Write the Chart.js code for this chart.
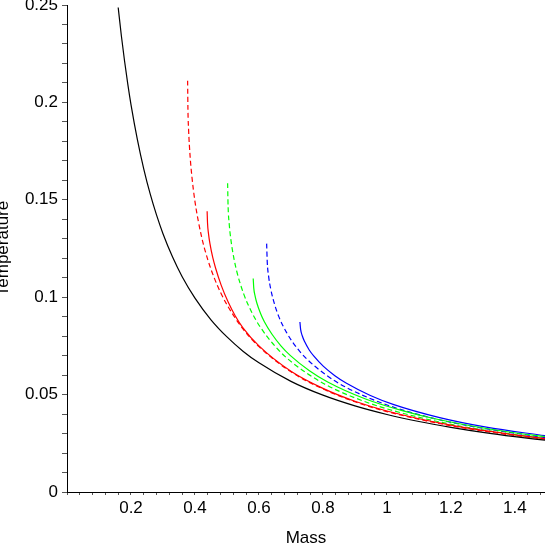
<!DOCTYPE html>
<html>
<head>
<meta charset="utf-8">
<script src="https://cdn.jsdelivr.net/npm/chart.js@4/dist/chart.umd.min.js"></script>
<style>
  html, body { margin: 0; padding: 0; background: #fff; }
  #wrap { width: 545px; height: 545px; }
</style>
</head>
<body>
<div id="wrap"><canvas id="chart" width="545" height="545"></canvas></div>
<script>
// values (Mass, Temperature)
const blackMass = [0.16, 0.17, 0.18, 0.19, 0.2, 0.22, 0.24, 0.26, 0.28, 0.3, 0.33, 0.36, 0.4, 0.45, 0.5, 0.55, 0.6, 0.7, 0.8, 0.9, 1.0, 1.1, 1.2, 1.3, 1.4, 1.494];
const blackTemp = [0.2487, 0.2341, 0.2211, 0.2094, 0.1989, 0.1809, 0.1658, 0.1530, 0.1421, 0.1326, 0.1206, 0.1105, 0.0995, 0.0884, 0.0796, 0.0723, 0.0663, 0.0568, 0.0497, 0.0442, 0.0398, 0.0362, 0.0332, 0.0306, 0.0284, 0.0266];

const redSolidMass = [0.438, 0.4393, 0.4424, 0.4468, 0.4555, 0.4643, 0.4818, 0.5037, 0.5256, 0.55, 0.6, 0.7, 0.8, 0.9, 1.0, 1.2, 1.4, 1.494];
const redSolidTemp = [0.1441, 0.1378, 0.1324, 0.1275, 0.1204, 0.1150, 0.1062, 0.0975, 0.0905, 0.0843, 0.0750, 0.0620, 0.0532, 0.0466, 0.0416, 0.0343, 0.0293, 0.0274];

const redDashMass = [0.377, 0.378, 0.38, 0.385, 0.39, 0.40, 0.42, 0.44, 0.46, 0.48, 0.5, 0.55, 0.6, 0.7, 0.8, 0.9, 1.0, 1.2, 1.4, 1.494];
const redDashTemp = [0.2111, 0.1963, 0.1861, 0.1718, 0.1625, 0.1491, 0.1315, 0.1193, 0.1100, 0.1024, 0.0961, 0.0837, 0.0746, 0.0617, 0.0529, 0.0463, 0.0413, 0.0340, 0.0290, 0.0271];

const greenSolidMass = [0.582, 0.5837, 0.5878, 0.5936, 0.6053, 0.6169, 0.6402, 0.6693, 0.6984, 0.7566, 0.8148, 0.9312, 1.0476, 1.164, 1.3968, 1.494];
const greenSolidTemp = [0.1096, 0.1048, 0.1007, 0.0969, 0.0915, 0.0874, 0.0811, 0.0749, 0.0700, 0.0624, 0.0565, 0.0479, 0.0418, 0.0371, 0.0304, 0.0285];

const greenDashMass = [0.502, 0.5035, 0.507, 0.512, 0.5221, 0.5321, 0.5522, 0.5773, 0.6024, 0.6526, 0.7028, 0.8032, 0.9036, 1.004, 1.2048, 1.4056, 1.494];
const greenDashTemp = [0.1585, 0.1467, 0.1376, 0.1298, 0.1196, 0.1123, 0.1017, 0.0923, 0.0851, 0.0744, 0.0666, 0.0556, 0.0481, 0.0425, 0.0346, 0.0293, 0.0274];

const blueSolidMass = [0.728, 0.7302, 0.7353, 0.7426, 0.7571, 0.7717, 0.8008, 0.8372, 0.8736, 0.9464, 1.0192, 1.1648, 1.3104, 1.494];
const blueSolidTemp = [0.0873, 0.0835, 0.0802, 0.0772, 0.0729, 0.0697, 0.0646, 0.0597, 0.0558, 0.0497, 0.0450, 0.0382, 0.0333, 0.0289];

const blueDashMass = [0.624, 0.6259, 0.6302, 0.6365, 0.649, 0.6614, 0.6864, 0.7176, 0.7488, 0.8112, 0.8736, 0.9984, 1.1232, 1.248, 1.494];
const blueDashTemp = [0.1275, 0.1180, 0.1107, 0.1044, 0.0962, 0.0903, 0.0818, 0.0742, 0.0684, 0.0599, 0.0536, 0.0448, 0.0387, 0.0342, 0.0279];

const xLabelStep = 0.2;
const yLabelStep = 0.05;

const pts = (xs, ys) => xs.map((x, i) => ({ x: x, y: ys[i] }));

const line = (label, xs, ys, color, dashed) => ({
  label: label,
  data: pts(xs, ys),
  borderColor: color,
  borderWidth: 1.2,
  borderDash: dashed ? [5, 3] : [],
  pointRadius: 0,
  fill: false,
  cubicInterpolationMode: 'monotone',
});

const font = { family: "'Liberation Sans', Arial, sans-serif", size: 17 };

new Chart(document.getElementById('chart'), {
  type: 'line',
  data: {
    datasets: [
      line('black', blackMass, blackTemp, '#000000', false),
      line('red', redSolidMass, redSolidTemp, '#ff0000', false),
      line('red dashed', redDashMass, redDashTemp, '#ff0000', true),
      line('green', greenSolidMass, greenSolidTemp, '#00ff00', false),
      line('green dashed', greenDashMass, greenDashTemp, '#00ff00', true),
      line('blue', blueSolidMass, blueSolidTemp, '#0000ff', false),
      line('blue dashed', blueDashMass, blueDashTemp, '#0000ff', true),
    ],
  },
  options: {
    responsive: false,
    animation: false,
    layout: { padding: { top: 5, left: 0, right: 0, bottom: 0 } },
    plugins: { legend: { display: false }, tooltip: { enabled: false } },
    scales: {
      x: {
        type: 'linear',
        min: 0,
        max: 1.494,
        border: { display: true, color: '#000', width: 1 },
        grid: { drawOnChartArea: false, drawTicks: true, tickLength: 3, tickColor: '#555' },
        ticks: {
          stepSize: 0.04,
          autoSkip: false,
          maxTicksLimit: 100,
          includeBounds: false,
          maxRotation: 0,
          padding: 3,
          color: '#000',
          font: font,
          callback: (v) => {
            const r = Math.round(v / xLabelStep);
            return (r > 0 && Math.abs(v - r * xLabelStep) < 1e-6) ? String(Math.round(v * 10) / 10) : '';
          },
        },
        title: { display: true, text: 'Mass', color: '#000', font: { ...font, lineHeight: 0.8 }, padding: { top: 0, bottom: 0 } },
        afterFit: (s) => { s.height = 53; s.paddingLeft = 0; s.paddingRight = 0; },
      },
      y: {
        type: 'linear',
        min: 0,
        max: 0.25,
        border: { display: true, color: '#000', width: 1 },
        grid: { drawOnChartArea: false, drawTicks: true, tickLength: 5, tickColor: '#555' },
        ticks: {
          stepSize: 0.01,
          autoSkip: false,
          maxTicksLimit: 100,
          padding: 4,
          color: '#000',
          font: font,
          callback: (v) => {
            const r = Math.round(v / yLabelStep);
            return Math.abs(v - r * yLabelStep) < 1e-6 ? String(Math.round(v * 100) / 100) : '';
          },
        },
        title: { display: true, text: 'Temperature', color: '#000', font: { ...font, lineHeight: 0.8 }, padding: { top: -3, bottom: 0 } },
        afterFit: (s) => { s.width = 67; s.paddingTop = 0; s.paddingBottom = 0; },
      },
    },
  },
});
</script>
</body>
</html>
